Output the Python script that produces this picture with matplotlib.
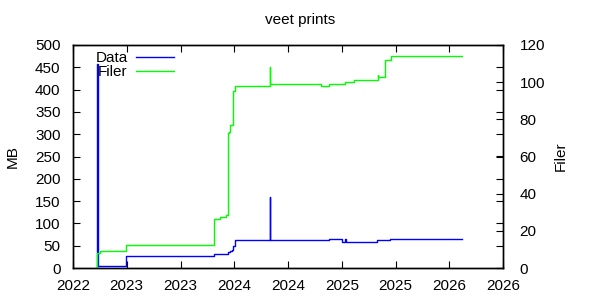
import numpy as np
import matplotlib.pyplot as plt

plt.rcParams['font.family'] = ['Liberation Sans', 'DejaVu Sans']
plt.rcParams['font.size'] = 11

# Data (MB), step values in decimal years
data_t = [2023.170, 2023.170, 2023.185, 2023.440, 2024.264, 2024.395, 2024.408,
          2024.426, 2024.438, 2024.454, 2024.785, 2024.787, 2025.334, 2025.455,
          2025.483, 2025.486, 2025.781, 2025.902, 2026.566]
data_mb = [0, 457, 4.5, 27, 32, 35, 38, 40, 49, 63, 160, 63, 65, 58.3, 65, 58.3,
           62.8, 65, 65]

# Filer (count)
filer_t = [2023.170, 2023.176, 2023.201, 2023.440, 2024.262, 2024.315, 2024.373,
           2024.395, 2024.404, 2024.413, 2024.441, 2024.454, 2024.785, 2024.787,
           2025.254, 2025.334, 2025.483, 2025.561, 2025.784, 2025.787, 2025.855,
           2025.908, 2026.566]
filer_n = [0, 7.9, 9.3, 12.4, 26.4, 27.4, 28.4, 72.5, 73.4, 77, 95.4, 98, 108.3,
           98.9, 98, 99, 99.9, 101, 104, 102.8, 111.8, 114.1, 114.1]

xticks = [2022.95 + 0.5 * i for i in range(9)]
xlabels = ['2022', '2023', '2023', '2024', '2024', '2025', '2025', '2026', '2026']

fig = plt.figure(figsize=(6, 3), dpi=100)
ax = fig.add_axes([73 / 600, 1 - 268 / 300, 430 / 600, 223 / 300])
ax2 = ax.twinx()

l1, = ax.step(data_t, data_mb, where='post', color='#0000ff', lw=1)
l2, = ax2.step(filer_t, filer_n, where='post', color='#00ff00', lw=1)

ax.set_xlim(xticks[0], xticks[-1])
ax.set_ylim(0, 500)
ax2.set_ylim(0, 120)
ax.set_xticks(xticks)
ax.set_xticklabels(xlabels)
ax.set_yticks(np.arange(0, 501, 50))
ax2.set_yticks(np.arange(0, 121, 20))

ax.tick_params(direction='in', length=5, width=0.8, top=True, right=True)
ax.tick_params(axis='y', pad=9)
ax.tick_params(axis='x', pad=8)
ax2.tick_params(direction='in', length=5, width=0.8, pad=12)
for a in (ax, ax2):
    for s in a.spines.values():
        s.set_linewidth(1)

ax.set_ylabel('MB', labelpad=11)
ax2.set_ylabel('Filer', labelpad=6)
fig.text(0.5, 1 - 20 / 300, 'veet prints', ha='center', va='center')

leg = ax.legend([l1, l2], ['Data', 'Filer'], loc='upper left',
                bbox_to_anchor=(0.038, 1.0), frameon=False, markerfirst=False,
                handlelength=2.5, handletextpad=0.55, labelspacing=0.0,
                borderaxespad=0)

fig.savefig('out.png', dpi=100)
